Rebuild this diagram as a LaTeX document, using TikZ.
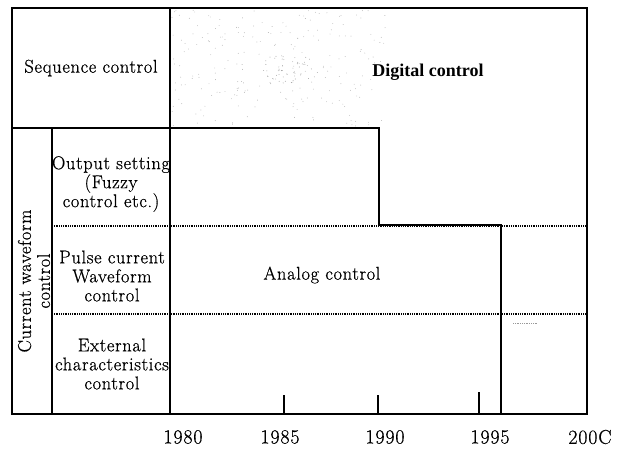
\documentclass[tikz,border=0pt]{standalone}
\usepackage{fontspec}
\setmainfont{Latin Modern Roman}[FakeBold=0.6]
\newfontfamily\dfont{Liberation Serif}
\begin{document}
\begin{tikzpicture}[x=1pt,y=-1pt,
  frame/.style={line width=1.8pt},
  stepline/.style={line width=2.4pt},
  gridline/.style={line width=1.5pt},
  dotline/.style={line width=1.1pt, dash pattern=on 0.9pt off 0.9pt},
  lbl/.style={font=\fontsize{18.5}{19}\selectfont\addfontfeatures{LetterSpace=3.5}, align=center, inner sep=0pt},
  yr/.style={font=\fontsize{20}{22}\selectfont\addfontfeatures{LetterSpace=4}, inner sep=0pt},
  speck/.style={fill=black!30}]
\useasboundingbox (0,0) rectangle (619,451);
% stipple in the early digital area
\pgfmathsetseed{11}
\foreach \i in {1,...,230}{
  \pgfmathsetmacro\xx{172+215*rnd}
  \pgfmathsetmacro\yy{10+116*rnd}
  \fill[speck] (\xx,\yy) circle (0.45);
}
\foreach \i in {1,...,45}{
  \pgfmathsetmacro\xx{290+25*rand}
  \pgfmathsetmacro\yy{70+14*rand}
  \fill[black!40] (\xx,\yy) circle (0.45);
}
% coordinates
\coordinate (tl) at (12,8);
\coordinate (br) at (587,414);
% dotted row separators
\draw[dotline] (52,226) -- (587,226);
\draw[dotline] (52,314) -- (587,314);
\draw[dotline, black!40, line width=0.6pt] (513,323) -- (538,323);
% inner frame lines
\draw[gridline] (12,128) -- (379,128);
\draw[gridline] (170,8) -- (170,414);
\draw[gridline] (52,128) -- (52,414);
% step line analog/digital
\draw[stepline] (170,128) -- (379,128) -- (379,225) -- (501,225) -- (501,414);
% ticks
\draw[gridline] (284,395) -- (284,414);
\draw[gridline] (378,395) -- (378,414);
\draw[gridline] (479,392) -- (479,414);
% outer frame
\draw[frame] (tl) rectangle (br);
% labels
\node[lbl] (seq) at (91,68) {Sequence control};
\node[lbl, rotate=90] (cwc) at (34,281) {Current waveform\\control};
\node[lbl] (out) at (111,184) {Output setting\\(Fuzzy\\control etc.)};
\node[lbl] (pulse) at (112,276) {Pulse current\\Waveform\\control};
\node[lbl] (ext) at (112,364) {External\\characteristics\\control};
\node[font=\dfont\bfseries\fontsize{18}{20}\selectfont, inner sep=0pt] (dig) at (428,72) {Digital control};
\node[lbl] (ana) at (322,275) {Analog control};
\node[yr] (y80) at (183,437) {1980};
\node[yr] (y85) at (280,437) {1985};
\node[yr] (y90) at (385,437) {1990};
\node[yr] (y95) at (490,437) {1995};
\node[yr] (y00) at (590,437) {200C};
\end{tikzpicture}
\end{document}
